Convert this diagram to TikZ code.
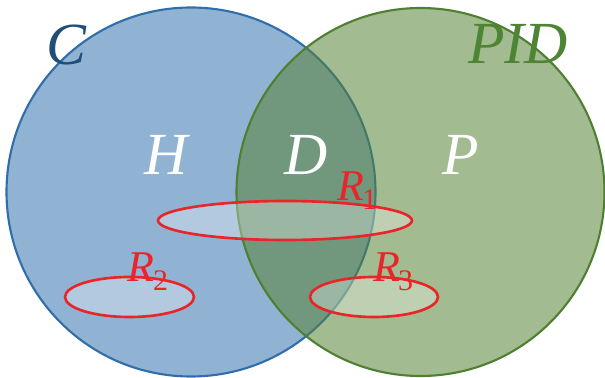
\documentclass[tikz,border=0pt]{standalone}
\usepackage{fontspec}
\setmainfont{Liberation Serif}
\usepackage{tikz}
\usetikzlibrary{positioning}
\definecolor{SetBlue}{HTML}{3774AF}
\definecolor{SetBlueEdge}{HTML}{2F6EAA}
\definecolor{SetGreen}{HTML}{578337}
\definecolor{SetGreenEdge}{HTML}{4F7F30}
\definecolor{LabelBlue}{HTML}{1F4E79}
\definecolor{LabelGreen}{HTML}{4E8534}
\definecolor{RegionRed}{HTML}{E8262A}

\newcommand{\rname}[1]{\textit{R}\kern-1pt\raisebox{-0.45ex}{\fontsize{17}{17}\selectfont #1}}

\begin{document}
\begin{tikzpicture}[
    x=0.02cm, y=-0.02cm,
    setlabel/.style={font=\fontsize{34}{34}\selectfont\itshape, inner sep=0pt},
    partlabel/.style={font=\fontsize{34}{34}\selectfont\itshape, text=white, inner sep=0pt},
    reglabel/.style={font=\fontsize{25}{25}\selectfont, text=RegionRed, inner sep=0pt},
    region/.style={draw=RegionRed, line width=1.5pt, fill=white, fill opacity=0.3},
]
\useasboundingbox (0,0) rectangle (605,378);

% === Sets ===
\draw[draw=SetBlueEdge, line width=1.2pt, fill=SetBlue, fill opacity=0.55]
    (191,192) circle (184.5);
\draw[draw=SetGreenEdge, line width=1.2pt, fill=SetGreen, fill opacity=0.55]
    (420.5,192) circle (184);

% === Regions ===
\draw[region] (285,220.5) ellipse [x radius=127, y radius=19.5];
\draw[region] (129.5,297) ellipse [x radius=64.5, y radius=20];
\draw[region] (374,297) ellipse [x radius=64, y radius=20];

% === Labels ===
\node[setlabel, text=LabelBlue] (cset) at (66,45) {C};
\node[setlabel, text=LabelGreen] (pidset) at (518,44) {PID};

\node[partlabel] (hpart) at (166,155) {H};
\node[partlabel] (dpart) at (306,155) {D};
\node[partlabel] (ppart) at (461,155) {P};

\node[reglabel] (rone) at (357,191) {\rname{1}};
\node[reglabel] (rtwo) at (148,272) {\rname{2}};
\node[reglabel] (rthree) at (393,272) {\rname{3}};

\end{tikzpicture}
\end{document}
